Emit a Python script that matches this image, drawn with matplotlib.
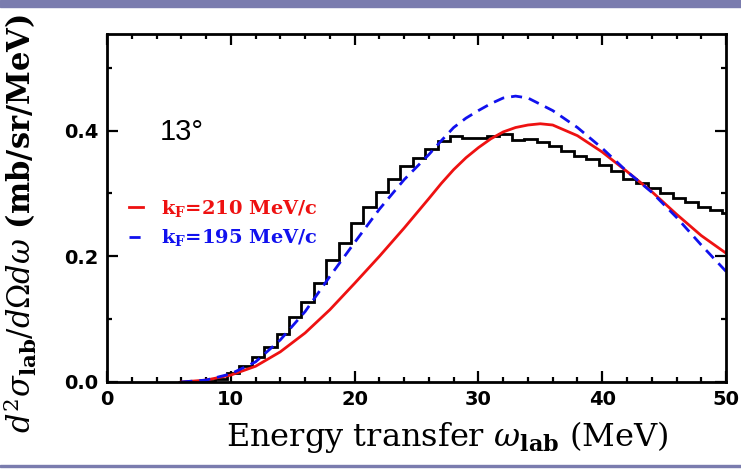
import matplotlib
matplotlib.use("Agg")
import matplotlib.pyplot as plt
from matplotlib.patches import Rectangle
from matplotlib.ticker import MultipleLocator, FormatStrFormatter

plt.rcParams["mathtext.fontset"] = "dejavuserif"

# Histogram (1 MeV bins)
hist_edges = [5.7 + i for i in range(46)]
hist_vals = [0.000, 0.001, 0.002, 0.005, 0.015, 0.025, 0.039, 0.056, 0.077, 0.103,
             0.127, 0.158, 0.194, 0.222, 0.253, 0.278, 0.303, 0.323, 0.344, 0.357,
             0.371, 0.383, 0.392, 0.388, 0.389, 0.392, 0.394, 0.385, 0.387, 0.382,
             0.375, 0.367, 0.359, 0.355, 0.346, 0.336, 0.323, 0.317, 0.308, 0.300,
             0.293, 0.286, 0.278, 0.274, 0.269]

# kF = 210 MeV/c (red, solid)
red_w = [6, 8, 10, 12, 14, 16, 18, 20, 22, 24, 26, 27, 28, 29, 30, 31, 32, 33, 34,
         35, 36, 38, 40, 42, 44, 46, 48, 50]
red_y = [0.000, 0.003, 0.011, 0.025, 0.048, 0.078, 0.115, 0.157, 0.200, 0.245,
         0.292, 0.316, 0.338, 0.357, 0.373, 0.387, 0.398, 0.405, 0.409, 0.411,
         0.409, 0.392, 0.366, 0.335, 0.303, 0.267, 0.233, 0.205]

# kF = 195 MeV/c (blue, dashed)
blue_w = [6, 8, 10, 12, 14, 16, 18, 20, 22, 24, 26, 27, 28, 29, 30, 31, 32, 33, 34,
          36, 38, 40, 42, 44, 46, 48, 50]
blue_y = [0.000, 0.003, 0.013, 0.032, 0.067, 0.112, 0.168, 0.222, 0.275, 0.322,
          0.362, 0.384, 0.405, 0.420, 0.432, 0.443, 0.452, 0.455, 0.452, 0.432,
          0.405, 0.372, 0.335, 0.302, 0.262, 0.218, 0.176]

labels = [r"$\mathbf{k_F}$=210 MeV/c", r"$\mathbf{k_F}$=195 MeV/c"]

fig = plt.figure(figsize=(7.41, 4.71), dpi=100)
ax = fig.add_axes([0.1444, 0.189, 0.8354, 0.739])

ax.stairs(hist_vals, hist_edges, color="black", lw=2.0)
l1, = ax.plot(red_w, red_y, color="#ee1111", lw=2.0)
l2, = ax.plot(blue_w, blue_y, color="#1111ee", lw=2.0, dashes=(4, 2.5))

ax.set_xlim(0, 50)
ax.set_ylim(0, 0.554)
ax.xaxis.set_major_locator(MultipleLocator(10))
ax.xaxis.set_minor_locator(MultipleLocator(2))
ax.yaxis.set_major_locator(MultipleLocator(0.2))
ax.yaxis.set_minor_locator(MultipleLocator(0.1))
ax.yaxis.set_major_formatter(FormatStrFormatter("%.1f"))
ax.tick_params(which="both", direction="in", top=True, right=True, width=1.6)
ax.tick_params(which="major", length=8, pad=6)
ax.tick_params(which="minor", length=3.5)
for lab in ax.get_xticklabels() + ax.get_yticklabels():
    lab.set_fontweight("bold")
    lab.set_fontsize(14)
for s in ax.spines.values():
    s.set_linewidth(2.0)

ax.set_xlabel(r"Energy transfer $\omega_{\mathbf{lab}}$ (MeV)",
              family="DejaVu Serif", fontsize=23)
ax.xaxis.set_label_coords(0.55, -0.105)
ax.set_ylabel(r"$d^2\sigma_{\mathbf{lab}}/d\Omega d\omega$ (mb/sr/MeV)",
              family="DejaVu Serif", fontsize=22, fontweight="bold")
ax.yaxis.set_label_coords(-0.11, 0.455)

ax.text(0.085, 0.718, "13°", transform=ax.transAxes, fontsize=21,
        family="Liberation Sans", va="center", ha="left")

ax.legend([l1, l2], labels, loc="upper left", bbox_to_anchor=(0.008, 0.58),
          frameon=False, handlelength=0.7, handletextpad=0.9,
          labelspacing=0.45, labelcolor="linecolor",
          prop={"family": "DejaVu Serif", "weight": "bold", "size": 14})

# slide-style bars
fig.patches.append(Rectangle((0, 0.985), 1, 0.015, transform=fig.transFigure,
                             color="#7a7cae", zorder=10))
fig.patches.append(Rectangle((0, 0.008), 1, 0.004, transform=fig.transFigure,
                             color="#7a7cae", zorder=10))

fig.savefig("out.png", dpi=100)
